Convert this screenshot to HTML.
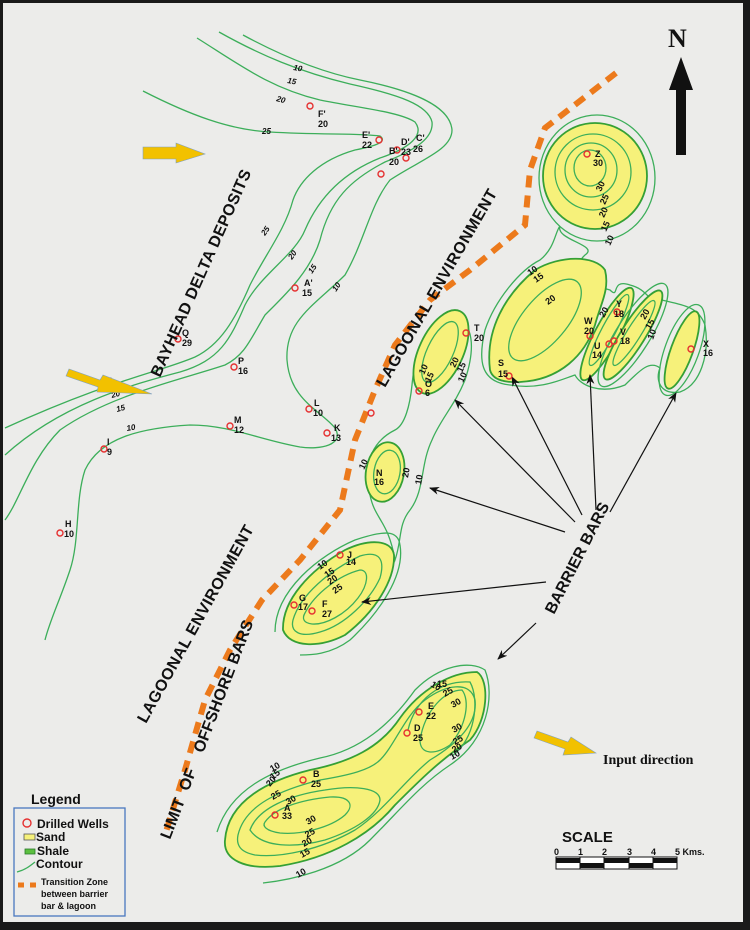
<!DOCTYPE html>
<html><head><meta charset="utf-8"><style>
html,body{margin:0;padding:0;background:#1a1a1a}
svg{display:block}
text{font-family:"Liberation Sans",sans-serif;font-weight:bold;fill:#111}
.c{fill:none;stroke:#3cae5a;stroke-width:1.3}
.s{fill:#f6f17a;stroke:#35a035;stroke-width:1.8}
.i{fill:none;stroke:#3cae5a;stroke-width:1.3}
.w{fill:none;stroke:#e53030;stroke-width:1.4}
.l{font-size:9px}
.t{font-size:8px;font-style:italic}
.a{stroke:#111;stroke-width:1.2;fill:none;marker-end:url(#ah)}
</style></head><body>
<svg width="750" height="930" viewBox="0 0 750 930" xmlns="http://www.w3.org/2000/svg">
<defs>
<marker id="ah" markerWidth="10" markerHeight="8" refX="9" refY="4" orient="auto" markerUnits="userSpaceOnUse"><path d="M0,0 L10,4 L0,8 L3,4z" fill="#111"/></marker>
<pattern id="dots" width="9" height="9" patternUnits="userSpaceOnUse"><rect width="9" height="9" fill="#f6f17a"/><circle cx="2" cy="3" r="0.7" fill="#333"/><circle cx="6.5" cy="7" r="0.7" fill="#333"/></pattern>
</defs>
<rect x="0" y="0" width="750" height="930" fill="#1a1a1a"/>
<rect x="3" y="3" width="740" height="919" fill="#ececea"/>

<!-- NW contours -->
<path class="c" d="M143,91 C190,115 230,130 270,132 C320,135 360,133 380,136 C388,142 375,146 355,150 C320,160 300,180 293,200 C285,230 265,255 250,285 C235,320 220,345 195,357 C160,372 110,380 5,428"/>
<path class="c" d="M197,38 C240,65 270,88 320,100 C360,108 400,112 415,122 C425,135 410,148 380,158 C345,172 320,195 305,230 C295,255 260,275 245,305 C230,340 220,360 180,372 C130,385 60,405 5,455"/>
<path class="c" d="M219,32 C260,55 300,72 350,84 C400,95 428,105 432,122 C434,140 410,152 385,162 C350,180 330,200 320,240 C310,272 285,295 265,315 C250,340 245,355 225,365 C180,380 110,395 60,430 C30,460 20,500 5,520"/>
<path class="c" d="M243,35 C280,55 320,72 360,80 C410,90 450,105 452,130 C452,150 420,160 390,180 C370,205 365,240 345,275 C315,305 285,320 287,360 C290,400 320,410 335,428 C345,445 320,450 300,447 C260,440 230,425 190,425 C140,428 100,438 85,470 C75,500 80,540 70,570 C60,600 50,620 45,640"/>
<g class="t">
<text x="293" y="70" transform="rotate(10 293 70)">10</text>
<text x="287" y="83" transform="rotate(10 287 83)">15</text>
<text x="276" y="101" transform="rotate(15 276 101)">20</text>
<text x="262" y="134">25</text>
<text x="265" y="236" transform="rotate(-55 265 236)">25</text>
<text x="292" y="260" transform="rotate(-55 292 260)">20</text>
<text x="312" y="274" transform="rotate(-55 312 274)">15</text>
<text x="336" y="292" transform="rotate(-55 336 292)">10</text>
<text x="104" y="385" transform="rotate(-15 104 385)">25</text>
<text x="112" y="398" transform="rotate(-15 112 398)">20</text>
<text x="117" y="412" transform="rotate(-15 117 412)">15</text>
<text x="127" y="431" transform="rotate(-10 127 431)">10</text>
</g>

<!-- Orange transition -->
<path d="M616,73 L545,128 L530,170 L525,225 L470,270 L430,300 L395,345 L375,390 L355,440 L340,510 L300,560 L262,600 L230,650 L205,700 L185,770 L165,835" fill="none" stroke="#ec7a1c" stroke-width="6" stroke-dasharray="12 8"/>

<!-- Z body -->
<ellipse class="c" cx="597" cy="178" rx="58" ry="63"/>
<ellipse class="s" cx="595" cy="176" rx="52" ry="53" fill="url(#dots)"/>
<ellipse class="i" cx="593" cy="172" rx="38" ry="38"/>
<ellipse class="i" cx="591" cy="170" rx="26" ry="27"/>
<ellipse class="i" cx="590" cy="168" rx="16" ry="18"/>

<!-- NE outer contour -->
<path class="c" d="M560,226 C555,240 600,245 585,255 C570,268 590,285 610,290 C620,300 610,278 630,285 C650,290 648,305 662,300 C680,305 698,305 705,325 C710,355 700,385 680,392 C660,395 655,380 660,368 C650,360 640,370 625,385 C600,395 580,385 575,375 C560,380 540,390 510,385 C480,382 478,360 485,330 C495,300 520,270 540,260 C555,248 555,232 560,226Z"/>

<!-- S body -->
<path class="s" fill="url(#dots)" d="M490,370 C485,330 505,295 535,270 C560,255 595,255 605,270 C610,290 600,305 595,325 C585,355 560,380 520,382 C500,383 492,378 490,370Z"/>
<ellipse class="i" cx="545" cy="320" rx="50" ry="22" transform="rotate(-50 545 320)"/>
<!-- W/U -->
<ellipse class="s" fill="url(#dots)" cx="607" cy="334" rx="52" ry="12" transform="rotate(-62 607 334)"/>
<ellipse class="i" cx="609" cy="330" rx="40" ry="7" transform="rotate(-62 609 330)"/>
<!-- V -->
<ellipse class="c" cx="633" cy="335" rx="60" ry="17" transform="rotate(-58 633 335)"/>
<ellipse class="s" fill="url(#dots)" cx="633" cy="335" rx="52" ry="12" transform="rotate(-58 633 335)"/>
<ellipse class="i" cx="634" cy="333" rx="38" ry="7" transform="rotate(-58 634 333)"/>
<!-- X -->
<ellipse class="c" cx="682" cy="350" rx="48" ry="17" transform="rotate(-70 682 350)"/>
<ellipse class="s" fill="url(#dots)" cx="682" cy="350" rx="41" ry="11" transform="rotate(-70 682 350)"/>

<!-- T / N middle contour -->
<path class="c" d="M452,318 C475,320 475,350 465,380 C455,405 440,420 432,440 C420,465 425,490 410,510 C398,525 402,540 395,560 C388,520 375,520 370,495 C362,460 375,440 395,430 C405,425 410,405 412,385 C415,350 430,320 452,318Z"/>
<ellipse class="s" fill="url(#dots)" cx="441" cy="352" rx="45" ry="22" transform="rotate(-65 441 352)"/>
<ellipse class="i" cx="440" cy="352" rx="33" ry="13" transform="rotate(-65 440 352)"/>
<ellipse class="s" fill="url(#dots)" cx="385" cy="472" rx="19" ry="30" transform="rotate(10 385 472)"/>
<ellipse class="i" cx="387" cy="472" rx="13" ry="22" transform="rotate(10 387 472)"/>

<!-- F/G body -->
<path class="c" d="M275,632 C275,590 320,555 355,540 C385,530 398,530 400,545 C405,575 380,612 350,640 C330,655 310,655 300,655"/>
<path class="s" fill="url(#dots)" d="M283,630 C282,600 310,570 345,550 C370,538 392,540 394,555 C395,580 375,612 345,635 C320,648 290,648 283,630Z"/>
<path class="i" d="M293,620 C300,595 330,570 360,556 C380,550 385,560 380,578 C370,600 345,625 320,632 C300,638 290,632 293,620Z"/>
<path class="i" d="M305,613 C315,593 340,575 360,570 C370,570 368,585 358,598 C345,615 325,625 312,624 C303,623 302,618 305,613Z"/>

<!-- South body -->
<path class="c" d="M217,832 C230,790 270,770 320,758 C360,750 390,725 415,690 C440,665 470,660 485,670 C495,695 488,740 450,765 C420,785 400,810 370,840 C340,870 290,880 263,883"/>
<path class="s" fill="url(#dots)" d="M225,840 C228,800 270,780 310,770 C350,762 380,748 400,718 C420,690 450,672 477,672 C490,680 488,720 470,740 C440,760 420,780 395,805 C370,835 330,858 280,866 C245,870 223,860 225,840Z"/>
<path class="i" d="M238,835 C245,805 280,790 320,780 C350,775 370,770 380,760 C395,745 405,715 425,700 C445,685 470,680 475,700 C478,725 455,745 430,760 C405,780 385,810 355,830 C320,850 280,858 255,855 C240,852 236,845 238,835Z"/>
<path class="i" d="M250,830 C258,808 290,795 325,790 C355,785 380,788 380,800 C378,815 355,830 325,840 C295,848 262,848 250,830Z"/>
<path class="i" d="M265,822 C275,808 300,800 330,797 C350,796 355,805 345,815 C330,828 300,835 280,833 C266,831 262,826 265,822Z"/>
<path class="i" d="M420,740 C425,710 445,690 462,690 C470,700 467,725 450,745 C435,755 420,755 420,740Z"/>
<path class="i" d="M408,730 C415,700 440,680 470,682 C480,700 475,740 452,756"/>

<!-- arrows -->
<g>
<line class="a" x1="575" y1="522" x2="455" y2="400"/>
<line class="a" x1="582" y1="515" x2="512" y2="377"/>
<line class="a" x1="596" y1="510" x2="590" y2="375"/>
<line class="a" x1="610" y1="512" x2="676" y2="393"/>
<line class="a" x1="565" y1="532" x2="430" y2="488"/>
<line class="a" x1="546" y1="582" x2="362" y2="602"/>
<line class="a" x1="536" y1="623" x2="498" y2="659"/>
</g>

<!-- wells -->
<g class="w">
<circle cx="310" cy="106" r="3"/><circle cx="379" cy="140" r="3"/><circle cx="397" cy="150" r="3"/><circle cx="406" cy="158" r="3"/><circle cx="381" cy="174" r="3"/>
<circle cx="295" cy="288" r="3"/><circle cx="178" cy="339" r="3"/><circle cx="234" cy="367" r="3"/><circle cx="309" cy="409" r="3"/><circle cx="230" cy="426" r="3"/><circle cx="327" cy="433" r="3"/><circle cx="104" cy="449" r="3"/><circle cx="60" cy="533" r="3"/>
<circle cx="419" cy="391" r="3"/><circle cx="371" cy="413" r="3"/><circle cx="466" cy="333" r="3"/><circle cx="509" cy="376" r="3"/>
<circle cx="587" cy="154" r="3"/><circle cx="617" cy="312" r="3"/><circle cx="590" cy="336" r="3"/><circle cx="609" cy="344" r="3"/><circle cx="614" cy="341" r="3"/><circle cx="691" cy="349" r="3"/>
<circle cx="340" cy="555" r="3"/><circle cx="294" cy="605" r="3"/><circle cx="312" cy="611" r="3"/>
<circle cx="419" cy="712" r="3"/><circle cx="407" cy="733" r="3"/><circle cx="303" cy="780" r="3"/><circle cx="275" cy="815" r="3"/>
</g>
<g class="l">
<text x="318" y="117">F'</text><text x="318" y="127">20</text>
<text x="362" y="138">E'</text><text x="362" y="148">22</text>
<text x="401" y="145">D'</text><text x="401" y="155">23</text>
<text x="416" y="141">C'</text><text x="413" y="152">26</text>
<text x="389" y="154">B'</text><text x="389" y="165">20</text>
<text x="304" y="286">A'</text><text x="302" y="296">15</text>
<text x="182" y="336">Q</text><text x="182" y="346">29</text>
<text x="238" y="364">P</text><text x="238" y="374">16</text>
<text x="314" y="406">L</text><text x="313" y="416">10</text>
<text x="234" y="423">M</text><text x="234" y="433">12</text>
<text x="334" y="431">K</text><text x="331" y="441">13</text>
<text x="107" y="445">I</text><text x="107" y="455">9</text>
<text x="65" y="527">H</text><text x="64" y="537">10</text>
<text x="425" y="387">O</text><text x="425" y="396">6</text>
<text x="376" y="476">N</text><text x="374" y="485">16</text>
<text x="474" y="331">T</text><text x="474" y="341">20</text>
<text x="498" y="366">S</text><text x="498" y="377">15</text>
<text x="595" y="157">Z</text><text x="593" y="166">30</text>
<text x="616" y="307">Y</text><text x="614" y="317">18</text>
<text x="584" y="324">W</text><text x="584" y="334">20</text>
<text x="594" y="349">U</text><text x="592" y="358">14</text>
<text x="620" y="335">V</text><text x="620" y="344">18</text>
<text x="703" y="347">X</text><text x="703" y="356">16</text>
<text x="347" y="558">J</text><text x="346" y="565">14</text>
<text x="299" y="601">G</text><text x="298" y="610">17</text>
<text x="322" y="607">F</text><text x="322" y="617">27</text>
<text x="428" y="709">E</text><text x="426" y="719">22</text>
<text x="414" y="731">D</text><text x="413" y="741">25</text>
<text x="313" y="777">B</text><text x="311" y="787">25</text>
<text x="284" y="811">A</text><text x="282" y="819">33</text>
</g>
<!-- contour labels in bodies -->
<g class="l">
<text x="601" y="192" transform="rotate(-65 601 192)">30</text>
<text x="605" y="205" transform="rotate(-65 605 205)">25</text>
<text x="604" y="218" transform="rotate(-65 604 218)">20</text>
<text x="606" y="232" transform="rotate(-65 606 232)">15</text>
<text x="610" y="246" transform="rotate(-65 610 246)">10</text>
<text x="530" y="276" transform="rotate(-35 530 276)">10</text>
<text x="536" y="283" transform="rotate(-35 536 283)">15</text>
<text x="548" y="305" transform="rotate(-35 548 305)">20</text>
<text x="604" y="318" transform="rotate(-60 604 318)">20</text>
<text x="645" y="320" transform="rotate(-60 645 320)">20</text>
<text x="650" y="330" transform="rotate(-60 650 330)">15</text>
<text x="653" y="340" transform="rotate(-70 653 340)">10</text>
<text x="424" y="375" transform="rotate(-65 424 375)">10</text>
<text x="430" y="383" transform="rotate(-65 430 383)">15</text>
<text x="455" y="368" transform="rotate(-65 455 368)">20</text>
<text x="462" y="373" transform="rotate(-65 462 373)">15</text>
<text x="463" y="383" transform="rotate(-65 463 383)">10</text>
<text x="364" y="470" transform="rotate(-65 364 470)">10</text>
<text x="408" y="478" transform="rotate(-80 408 478)">20</text>
<text x="421" y="485" transform="rotate(-80 421 485)">10</text>
<text x="320" y="570" transform="rotate(-35 320 570)">10</text>
<text x="327" y="578" transform="rotate(-35 327 578)">15</text>
<text x="330" y="585" transform="rotate(-35 330 585)">20</text>
<text x="335" y="594" transform="rotate(-35 335 594)">25</text>
<text x="430" y="686" transform="rotate(30 430 686)">10</text>
<text x="437" y="687">15</text>
<text x="445" y="697" transform="rotate(-30 445 697)">25</text>
<text x="453" y="708" transform="rotate(-30 453 708)">30</text>
<text x="454" y="733" transform="rotate(-30 454 733)">30</text>
<text x="455" y="745" transform="rotate(-30 455 745)">25</text>
<text x="454" y="753" transform="rotate(-30 454 753)">20</text>
<text x="452" y="760" transform="rotate(-30 452 760)">10</text>
<text x="272" y="772" transform="rotate(-30 272 772)">10</text>
<text x="273" y="780" transform="rotate(-40 273 780)">15</text>
<text x="270" y="787" transform="rotate(-50 270 787)">20</text>
<text x="273" y="800" transform="rotate(-30 273 800)">25</text>
<text x="288" y="805" transform="rotate(-30 288 805)">30</text>
<text x="308" y="825" transform="rotate(-30 308 825)">30</text>
<text x="307" y="838" transform="rotate(-30 307 838)">25</text>
<text x="304" y="847" transform="rotate(-30 304 847)">20</text>
<text x="302" y="858" transform="rotate(-30 302 858)">15</text>
<text x="298" y="878" transform="rotate(-30 298 878)">10</text>
</g>

<!-- big labels -->
<text x="160" y="378" font-size="16" textLength="225" transform="rotate(-66 160 378)">BAYHEAD DELTA DEPOSITS</text>
<text x="385" y="388" font-size="16" textLength="225" transform="rotate(-60 385 388)">LAGOONAL ENVIRONMENT</text>
<text x="146" y="724" font-size="16" textLength="223" transform="rotate(-61 146 724)">LAGOONAL ENVIRONMENT</text>
<text x="170" y="840" font-size="16" textLength="233" transform="rotate(-69 170 840)" xml:space="preserve">LIMIT  OF    OFFSHORE BARS</text>
<text x="554" y="615" font-size="16" transform="rotate(-63 554 615)">BARRIER BARS</text>

<!-- yellow arrows -->
<g fill="#f2c100" stroke="#7fa0c0" stroke-width="0.6">
<path d="M143,147 L176,147 L176,143 L205,154 L176,163 L176,159 L143,159Z"/>
<path d="M66,376 L69,369 L100,380 L103,375 L152,394 L97,392 L98,387Z"/>
<path d="M534,738 L537,731 L568,742 L571,737 L596,753 L563,755 L565,749Z"/>
</g>
<text x="603" y="764" font-size="14" style="font-family:'Liberation Serif',serif">Input direction</text>

<!-- North arrow -->
<text x="668" y="47" font-size="26" style="font-family:'Liberation Serif',serif">N</text>
<path d="M681,57 L693,90 L686,90 L686,155 L676,155 L676,90 L669,90Z" fill="#111"/>

<!-- Scale -->
<text x="562" y="842" font-size="15">SCALE</text>
<g class="l"><text x="554" y="855">0</text><text x="578" y="855">1</text><text x="602" y="855">2</text><text x="627" y="855">3</text><text x="651" y="855">4</text><text x="675" y="855">5 Kms.</text></g>
<rect x="556" y="857" width="121" height="12" fill="#fff" stroke="#111" stroke-width="1"/>
<rect x="556" y="858" width="24" height="5" fill="#111"/><rect x="580" y="863" width="24" height="5" fill="#111"/>
<rect x="604" y="858" width="25" height="5" fill="#111"/><rect x="629" y="863" width="24" height="5" fill="#111"/>
<rect x="653" y="858" width="24" height="5" fill="#111"/>
<g stroke="#111" stroke-width="1"><line x1="580" y1="857" x2="580" y2="869"/><line x1="604" y1="857" x2="604" y2="869"/><line x1="629" y1="857" x2="629" y2="869"/><line x1="653" y1="857" x2="653" y2="869"/></g>

<!-- Legend -->
<text x="31" y="804" font-size="14">Legend</text>
<rect x="14" y="808" width="111" height="108" fill="#ececea" stroke="#4a78c0" stroke-width="1.3"/>
<circle cx="27" cy="823" r="4" class="w"/>
<text x="37" y="828" font-size="12">Drilled Wells</text>
<rect x="24" y="834" width="11" height="6" fill="#f6f17a" stroke="#555" stroke-width="0.8"/>
<text x="36" y="841" font-size="12">Sand</text>
<rect x="25" y="849" width="10" height="5" fill="#5cc040" stroke="#2a7a2a" stroke-width="0.8"/>
<text x="37" y="855" font-size="12">Shale</text>
<path d="M17,872 C25,870 30,866 35,862" class="c"/>
<text x="36" y="868" font-size="12">Contour</text>
<path d="M18,885 L37,885" stroke="#ec7a1c" stroke-width="5" stroke-dasharray="6 6"/>
<text x="41" y="885" font-size="9">Transition Zone</text>
<text x="41" y="897" font-size="9">between barrier</text>
<text x="41" y="909" font-size="9">bar &amp; lagoon</text>
</svg>
</body></html>
